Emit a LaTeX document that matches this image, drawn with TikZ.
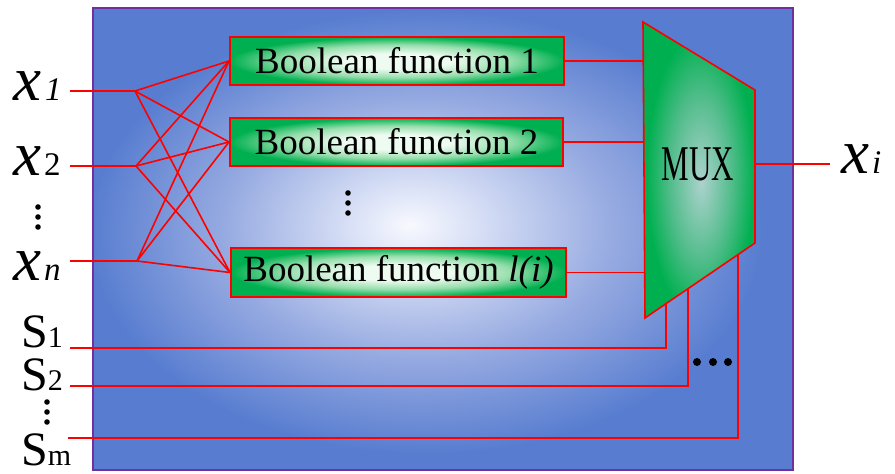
\documentclass[tikz,border=0pt]{standalone}
\usepackage{fontspec}
\setmainfont{Liberation Serif}
\usepackage{graphicx}
\usetikzlibrary{calc}
\definecolor{bgblue}{RGB}{88,125,208}
\definecolor{bgmid}{RGB}{150,170,225}
\definecolor{bglight}{RGB}{220,227,247}
\definecolor{bgwhite}{RGB}{248,249,254}
\definecolor{bgpurple}{RGB}{112,48,160}
\definecolor{boxgreen}{RGB}{0,176,80}
\definecolor{boxlight}{RGB}{238,251,240}
\definecolor{boxmid}{RGB}{150,222,172}
\definecolor{muxlight}{RGB}{172,210,205}
\definecolor{muxmid}{RGB}{80,188,138}
\pgfdeclareradialshading{bgshade}{\pgfpoint{-2.4bp}{1.5bp}}{color(0bp)=(bgwhite); color(4bp)=(bglight); color(14bp)=(bgmid); color(24bp)=(bgblue); color(50bp)=(bgblue)}
\pgfdeclareradialshading{boxshade}{\pgfpoint{0bp}{0bp}}{color(0bp)=(boxlight); color(8bp)=(boxlight); color(17bp)=(boxmid); color(25bp)=(boxgreen); color(50bp)=(boxgreen)}
\pgfdeclareradialshading{muxshade}{\pgfpoint{1bp}{-2bp}}{color(0bp)=(muxlight); color(14bp)=(muxmid); color(24bp)=(boxgreen); color(50bp)=(boxgreen)}
\begin{document}
\begin{tikzpicture}[x=1pt,y=-1pt,
  wire/.style={draw=red, line width=1.6pt},
  bfbox/.style={draw=red, line width=2pt, shading=boxshade, inner sep=0pt,
    minimum height=48pt, font=\fontsize{37}{37}\selectfont},
  biglab/.style={inner sep=0pt, anchor=base west, text height=30pt, text depth=0pt},
  dotmark/.style={fill=black}
]
\useasboundingbox (0,0) rectangle (895,474);
% background
\path[draw=bgpurple, line width=2pt, shading=bgshade] (93,8) rectangle (793,470);

% boolean function boxes
\node[bfbox, minimum width=334pt] (bf1) at (397,61) {Boolean function 1};
\node[bfbox, minimum width=333pt] (bf2) at (396.5,142) {Boolean function 2};
\node[bfbox, minimum width=335pt, minimum height=49pt] (bfl) at (398.5,272.5) {Boolean function \textit{l(i)}};

% MUX
\coordinate (mTL) at (643,22);
\coordinate (mTR) at (755,90);
\coordinate (mBR) at (755,243);
\coordinate (mBL) at (645,318);
\path[draw=red, line width=1.6pt, shading=muxshade] (mTL) -- (mTR) -- (mBR) -- (mBL) -- cycle;
\node[inner sep=0pt, font=\fontsize{50}{50}\selectfont] (mux) at (698,164) {\scalebox{0.62}[1]{MUX}};

% input labels
\node[biglab] (lx1) at (13,100) {{\fontsize{63}{63}\selectfont\itshape x}\kern4pt{\fontsize{33}{33}\selectfont\itshape 1}};
\node[biglab] (lx2) at (13,175) {{\fontsize{63}{63}\selectfont\itshape x}\kern3pt{\fontsize{33}{33}\selectfont 2}};
\node[biglab] (lxn) at (13,280) {{\fontsize{63}{63}\selectfont\itshape x}\kern3pt{\fontsize{33}{33}\selectfont\itshape n}};
\node[biglab] (lxi) at (841,173) {{\fontsize{63}{63}\selectfont\itshape x}\kern3pt{\fontsize{33}{33}\selectfont\itshape i}};
\node[biglab] (ls1) at (21,347) {{\fontsize{48}{48}\selectfont S}{\fontsize{30}{30}\selectfont 1}};
\node[biglab] (ls2) at (21,390) {{\fontsize{48}{48}\selectfont S}{\fontsize{30}{30}\selectfont 2}};
\node[biglab] (lsm) at (21,465) {{\fontsize{48}{48}\selectfont S}{\fontsize{30}{30}\selectfont m}};

% vertical / horizontal dots
\foreach \yy in {207,217,227} \fill (38,\yy) circle (2.8pt);
\foreach \yy in {402,412,422} \fill (47,\yy) circle (2.8pt);
\foreach \yy in {193,203,213} \fill (348,\yy) circle (2.8pt);
\foreach \xx in {697,713,728} \fill (\xx,362) circle (4pt);

% input wires and fan-out
\coordinate (i1) at (70,91);  \coordinate (f1) at (135,91);
\coordinate (i2) at (70,166); \coordinate (f2) at (136,166);
\coordinate (in) at (70,261); \coordinate (fn) at (137,261);
\foreach \f/\i in {f1/i1,f2/i2,fn/in} {
  \draw[wire] (\i) -- (\f);
  \foreach \b in {bf1,bf2,bfl} \draw[wire] (\f) -- (\b.west);
}

% box outputs into MUX
\coordinate (mL) at (644,0);
\draw[wire] (bf1.east) -- (bf1.east -| mL);
\draw[wire] (bf2.east) -- (bf2.east -| mL);
\draw[wire] (bfl.east) -- (bfl.east -| mL);

% MUX output
\coordinate (mOut) at (755,164);
\coordinate (xiEnd) at (830,164);
\draw[wire] (mOut) -- (xiEnd);

% select lines
\coordinate (sel1) at ($(mBL)!0.19!(mBR)$);
\coordinate (sel2) at ($(mBL)!0.39!(mBR)$);
\coordinate (selm) at ($(mBL)!0.845!(mBR)$);
\coordinate (s1) at (70,348);
\coordinate (s2) at (70,386);
\coordinate (sm) at (68,438);
\draw[wire] (s1) -| (sel1);
\draw[wire] (s2) -| (sel2);
\draw[wire] (sm) -| (selm);
\end{tikzpicture}
\end{document}
